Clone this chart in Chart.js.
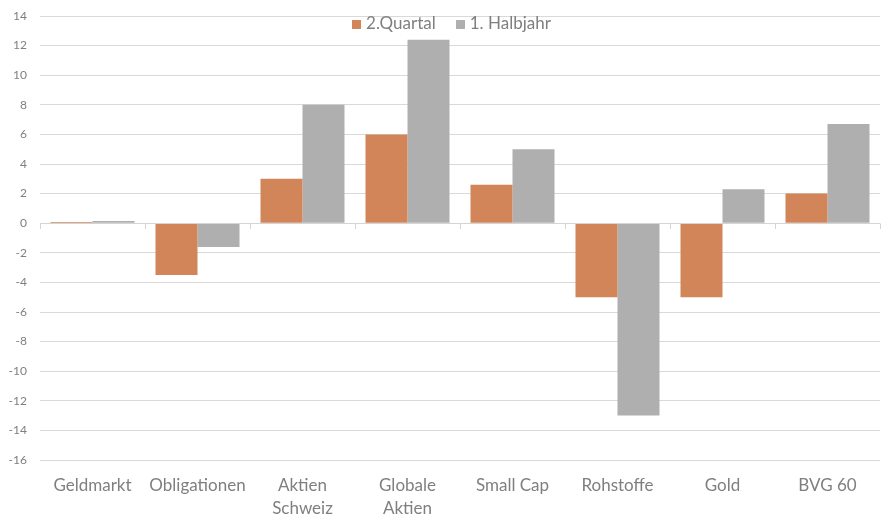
<!DOCTYPE html>
<html>
<head>
<meta charset="utf-8">
<script src="https://cdn.jsdelivr.net/npm/chart.js@4"></script>
<style>
  html,body{margin:0;padding:0;background:#fff;}
  #wrap{position:relative;width:889px;height:527px;}
  #legend{position:absolute;top:12px;left:0;width:903px;text-align:center;font-family:Lato,"Noto Sans",sans-serif;font-size:17px;color:#7f7f7f;pointer-events:none;}
  #legend span.item{display:inline-block;margin:0 10px;}
  #legend span.box{display:inline-block;width:9px;height:9px;margin-right:5px;vertical-align:0px;}
</style>
</head>
<body>
<div id="wrap">
  <canvas id="c" width="889" height="527"></canvas>
  <div id="legend"></div>
</div>
<script>
const categories = ["Geldmarkt", "Obligationen", ["Aktien", "Schweiz"], ["Globale", "Aktien"], "Small Cap", "Rohstoffe", "Gold", "BVG 60"];
const seriesNames = ["2.Quartal", "1. Halbjahr"];
const quartal = [0.08, -3.5, 3.0, 6.0, 2.6, -5.0, -5.0, 2.0];
const halbjahr = [0.15, -1.6, 8.0, 12.4, 5.0, -13.0, 2.3, 6.7];
const yMin = -16, yMax = 14, yStep = 2;
const colors = ["#D3855A", "#AFAFAF"];

const legend = document.getElementById('legend');
seriesNames.forEach((n, i) => {
  const it = document.createElement('span');
  it.className = 'item';
  const b = document.createElement('span');
  b.className = 'box';
  b.style.background = colors[i];
  it.appendChild(b);
  it.appendChild(document.createTextNode(n));
  legend.appendChild(it);
});

const zeroTicks = {
  id: 'zeroTicks',
  afterDatasetsDraw(chart) {
    const x = chart.scales.x, y = chart.scales.y, ctx = chart.ctx;
    const y0 = y.getPixelForValue(0);
    ctx.save();
    ctx.strokeStyle = '#d4d4d4';
    ctx.lineWidth = 1;
    ctx.beginPath();
    ctx.moveTo(chart.chartArea.left, Math.round(y0) + 0.5);
    ctx.lineTo(chart.chartArea.right, Math.round(y0) + 0.5);
    const n = categories.length;
    for (let i = 0; i <= n; i++) {
      const px = x.getPixelForValue(i - 0.5);
      const rx = Math.round(px) + 0.5;
      ctx.moveTo(rx, Math.round(y0) + 0.5);
      ctx.lineTo(rx, Math.round(y0) + 6);
    }
    ctx.stroke();
    ctx.restore();
  }
};

new Chart(document.getElementById('c'), {
  type: 'bar',
  data: {
    labels: categories,
    datasets: [
      { label: seriesNames[0], data: quartal, backgroundColor: colors[0], borderWidth: 0 },
      { label: seriesNames[1], data: halbjahr, backgroundColor: colors[1], borderWidth: 0 }
    ]
  },
  options: {
    responsive: false,
    animation: false,
    devicePixelRatio: 1,
    layout: { padding: { top: 16, right: 9, left: 0, bottom: 0 } },
    datasets: { bar: { categoryPercentage: 0.8, barPercentage: 1.0 } },
    plugins: { legend: { display: false }, tooltip: { enabled: false } },
    scales: {
      x: {
        grid: { display: false },
        border: { display: false },
        ticks: { color: '#7f7f7f', font: { family: 'Lato', size: 17, lineHeight: 1.35 }, padding: 6, maxRotation: 0, autoSkip: false },
        afterFit(s) { s.height = 67; s.paddingTop = 0; s.paddingBottom = 0; }
      },
      y: {
        min: yMin, max: yMax,
        ticks: { stepSize: yStep, color: '#7f7f7f', font: { family: 'Lato', size: 12 }, padding: 13 },
        grid: { color: '#d9d9d9', drawTicks: false, lineWidth: 1 },
        border: { display: false },
        afterFit(s) { s.width = 40; s.paddingTop = 0; s.paddingBottom = 0; }
      }
    }
  },
  plugins: [zeroTicks]
});
</script>
</body>
</html>
